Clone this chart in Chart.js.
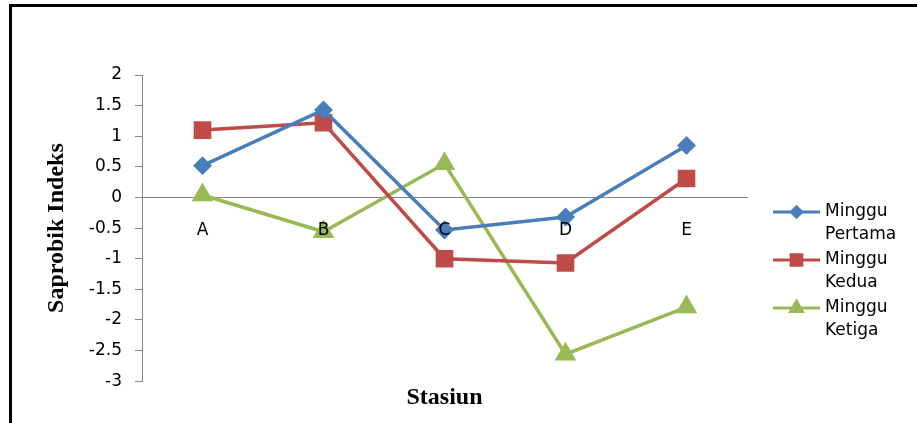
<!DOCTYPE html>
<html>
<head>
<meta charset="utf-8">
<script src="https://cdn.jsdelivr.net/npm/chart.js@4/dist/chart.umd.min.js"></script>
<style>
  html, body { margin: 0; padding: 0; background: #fff; }
  #wrap { position: relative; width: 917px; height: 423px; }
  #frame {
    position: absolute; left: 9px; top: 4px; right: 0; bottom: 0;
    border-left: 3px solid #000; border-top: 3px solid #000;
    pointer-events: none;
  }
</style>
</head>
<body>
<div id="wrap">
  <canvas id="sapChart" width="917" height="423"></canvas>
  <div id="frame"></div>
</div>
<script>
// Stasiun (categories)
const stasiun = ['A', 'B', 'C', 'D', 'E'];

// Saprobik index per week
const mingguPertama = [0.52, 1.43, -0.53, -0.32, 0.85];
const mingguKedua = [1.10, 1.22, -1.00, -1.07, 0.31];
const mingguKetiga = [0.04, -0.56, 0.55, -2.56, -1.79];

// y axis range
const yMin = -3;
const yMax = 2;
const yStep = 0.5;

const labelFont = { family: 'DejaVu Sans', size: 17 };
const titleFont = { family: 'Liberation Serif', size: 24, weight: 'bold' };

// Excel-style legend: line with marker, multi-line text
const sideLegend = {
  id: 'sideLegend',
  afterDraw(chart) {
    const c = chart.ctx;
    const x0 = 773, x1 = 820, textX = 825;
    let y = 212;
    c.save();
    chart.data.datasets.forEach(ds => {
      c.strokeStyle = ds.borderColor;
      c.lineWidth = 3;
      c.beginPath();
      c.moveTo(x0, y);
      c.lineTo(x1, y);
      c.stroke();
      Chart.helpers.drawPoint(c, {
        pointStyle: ds.pointStyle,
        radius: ds.pointRadius * 0.75,
        borderWidth: 1,
        rotation: 0
      }, (x0 + x1) / 2, y);
      c.fillStyle = ds.borderColor;
      c.fill();
      c.fillStyle = '#000';
      c.font = `${labelFont.size}px "${labelFont.family}"`;
      c.textBaseline = 'middle';
      c.textAlign = 'left';
      ds.label.forEach((line, i) => c.fillText(line, textX, y + i * 23));
      y += 48;
    });
    c.restore();
  }
};

const ctx = document.getElementById('sapChart').getContext('2d');

const chart = new Chart(ctx, {
  type: 'line',
  data: {
    labels: stasiun,
    datasets: [{
      label: ['Minggu', 'Pertama'],
      data: mingguPertama,
      borderColor: '#4A7EBB',
      backgroundColor: '#4A7EBB',
      pointStyle: 'rectRot',
      pointRadius: 7,
      borderWidth: 3.5
    }, {
      label: ['Minggu', 'Kedua'],
      data: mingguKedua,
      borderColor: '#BE4B48',
      backgroundColor: '#BE4B48',
      pointStyle: 'rect',
      pointRadius: 10,
      borderWidth: 3.5
    }, {
      label: ['Minggu', 'Ketiga'],
      data: mingguKetiga,
      borderColor: '#98B954',
      backgroundColor: '#98B954',
      pointStyle: 'triangle',
      pointRadius: 9,
      borderWidth: 3.5
    }]
  },
  options: {
    responsive: false,
    animation: false,
    layout: { padding: { left: 0, top: 75, right: 170, bottom: 11 } },
    elements: {
      line: { tension: 0 },
      point: { borderWidth: 1 }
    },
    plugins: {
      legend: { display: false },
      tooltip: { enabled: false },
      title: {
        display: true,
        text: 'Stasiun',
        position: 'bottom',
        fullSize: false,
        color: '#000',
        font: titleFont,
        padding: { top: 2, bottom: 0 }
      }
    },
    scales: {
      x: {
        position: { y: 0 },
        offset: true,
        grid: { display: true, drawOnChartArea: false, drawTicks: false },
        border: { display: true, color: '#868686', width: 1 },
        // category labels sit on top of the lines, as in Excel
        ticks: { color: '#000', font: labelFont, padding: 23, z: 1 },
        afterFit: s => { s.height = 0; }
      },
      y: {
        min: yMin,
        max: yMax,
        ticks: {
          stepSize: yStep,
          color: '#000',
          font: labelFont,
          padding: 13,
          callback: v => String(+v.toFixed(1))
        },
        grid: { drawOnChartArea: false, drawTicks: true, tickLength: 7, color: '#868686' },
        border: { display: true, color: '#868686', width: 1 },
        title: {
          display: true,
          text: 'Saprobik Indeks',
          color: '#000',
          font: titleFont,
          padding: { top: 42, bottom: 0 }
        },
        afterFit: s => { s.width = 142; }
      }
    }
  },
  plugins: [sideLegend]
});
</script>
</body>
</html>
